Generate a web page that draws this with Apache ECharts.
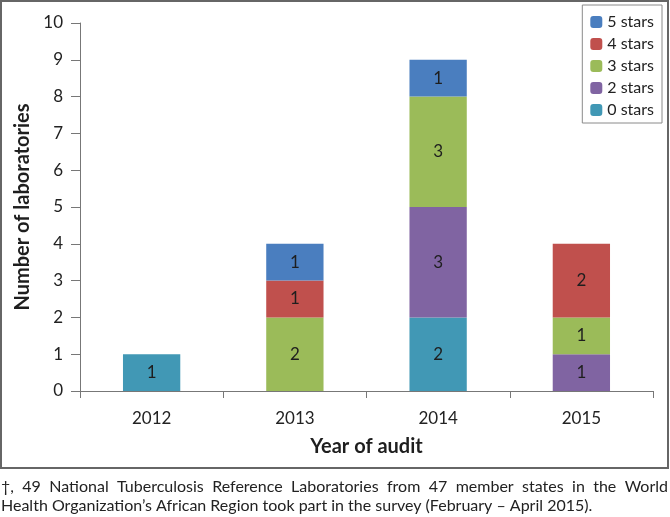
<!DOCTYPE html>
<html>
<head>
<meta charset="utf-8">
<script src="https://cdn.jsdelivr.net/npm/echarts@6/dist/echarts.min.js"></script>
<style>
html,body{margin:0;padding:0;background:#fff;}
#chart{width:670px;height:517px;}
</style>
</head>
<body>
<div id="chart"></div>
<script>
const categories = ['2012', '2013', '2014', '2015'];
const stars0 = [1, null, 2, null];
const stars2 = [null, null, 3, 1];
const stars3 = [null, 2, 3, 1];
const stars4 = [null, 1, null, 2];
const stars5 = [null, 1, 1, null];
const legendOrder = ['5 stars', '4 stars', '3 stars', '2 stars', '0 stars'];
const yTitle = 'Number of laboratories';
const xTitle = 'Year of audit';
const footLine1 = '†, 49 National Tuberculosis Reference Laboratories from 47 member states in the World';
const footLine2 = 'Health Organization’s African Region took part in the survey (February – April 2015).';

const FONT = 'Lato';
const FOOT_SIZE = 16;
const chart = echarts.init(document.getElementById('chart'), null, {renderer: 'canvas'});

function mk(name, data, color) {
  return {
    name: name, type: 'bar', stack: 'a', data: data, barWidth: '40%',
    itemStyle: {color: color},
    label: {show: true, position: 'inside', color: '#1e1e1e', fontSize: 17, fontFamily: FONT},
    emphasis: {disabled: true}
  };
}

// justified first footnote line: measure words and spread them across the width
const ctx = document.createElement('canvas').getContext('2d');
ctx.font = FOOT_SIZE + 'px ' + FONT;
function justified(line, x0, x1, top) {
  const words = line.split(' ');
  const widths = words.map(w => ctx.measureText(w).width);
  const total = widths.reduce((a, b) => a + b, 0);
  const gap = (x1 - x0 - total) / (words.length - 1);
  const out = [];
  let x = x0;
  words.forEach((w, i) => {
    out.push({type: 'text', x: x, y: top, style: {text: w, fontSize: FOOT_SIZE, fill: '#222', fontFamily: FONT}, silent: true});
    x += widths[i] + gap;
  });
  return out;
}

function render() {
  chart.setOption({
    animation: false,
    textStyle: {fontFamily: FONT},
    grid: {left: 80, right: 17, top: 23, bottom: 126},
    legend: {
      data: legendOrder, orient: 'vertical', right: 8, top: 5,
      itemWidth: 12, itemHeight: 12, itemGap: 6,
      borderColor: '#8a8a8a', borderWidth: 1, padding: [9, 8, 5, 8],
      textStyle: {fontSize: 16, color: '#222', fontFamily: FONT}
    },
    xAxis: {
      type: 'category', data: categories,
      name: xTitle, nameLocation: 'middle', nameGap: 46,
      nameTextStyle: {fontSize: 20, fontWeight: 'bold', color: '#1e1e1e', fontFamily: FONT},
      axisLine: {lineStyle: {color: '#777', width: 1}},
      axisTick: {show: true, length: 7, alignWithLabel: false, lineStyle: {color: '#777'}},
      axisLabel: {fontSize: 17, color: '#222', margin: 19, fontFamily: FONT}
    },
    yAxis: {
      type: 'value', min: 0, max: 10, interval: 1,
      name: yTitle, nameLocation: 'middle', nameGap: 45,
      nameTextStyle: {fontSize: 20, fontWeight: 'bold', color: '#1e1e1e', fontFamily: FONT},
      axisLine: {show: true, lineStyle: {color: '#777', width: 1}},
      axisTick: {show: true, length: 9, inside: false, lineStyle: {color: '#777'}},
      splitLine: {show: false},
      axisLabel: {fontSize: 17, color: '#222', margin: 17, fontFamily: FONT}
    },
    series: [
      mk('0 stars', stars0, '#4198B5'),
      mk('2 stars', stars2, '#8064A2'),
      mk('3 stars', stars3, '#9BBB59'),
      mk('4 stars', stars4, '#C0504D'),
      mk('5 stars', stars5, '#4A7EBF')
    ],
    graphic: [
      {type: 'rect', shape: {x: 1, y: 1, width: 667, height: 467}, style: {fill: 'none', stroke: '#666', lineWidth: 2}, silent: true}
    ].concat(justified(footLine1, 1, 668, 479)).concat([
      {type: 'text', x: 1, y: 498, style: {text: footLine2, fontSize: FOOT_SIZE, fill: '#222', fontFamily: FONT}, silent: true}
    ])
  });
}
render();
</script>
</body>
</html>
